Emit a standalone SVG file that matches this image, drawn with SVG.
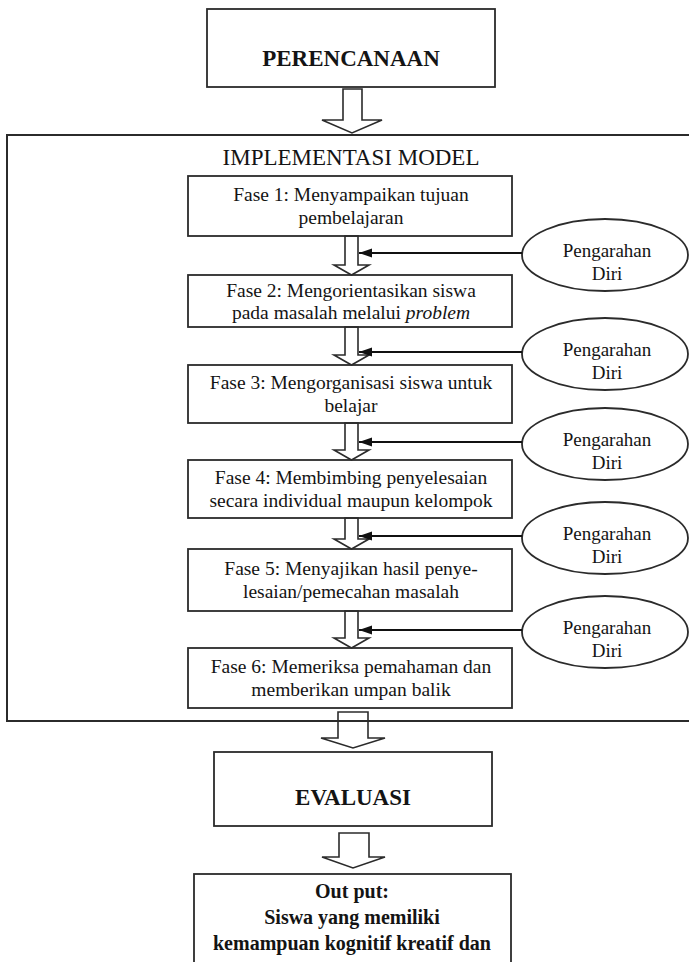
<svg xmlns="http://www.w3.org/2000/svg" width="689" height="962" viewBox="0 0 689 962">
<style>
.box{fill:#fff;stroke:#2b2b2b;stroke-width:1.8}
.frame{fill:none;stroke:#2b2b2b;stroke-width:2}
.barrow{fill:none;stroke:#2b2b2b;stroke-width:1.6;stroke-linejoin:miter}
.link{stroke:#111;stroke-width:2.2;fill:none}
.t{font-family:"Liberation Serif","Times New Roman",serif;fill:#141414;text-anchor:middle}
.fase{font-size:19.5px}
.big{font-size:23px;font-weight:bold}
.out{font-size:20px;font-weight:bold}
.ell{font-size:19px}
</style>
<defs>
<marker id="ah" markerUnits="userSpaceOnUse" markerWidth="14" markerHeight="10" refX="13" refY="4.5" orient="auto">
<path d="M0,0 L13,4.5 L0,9 z" fill="#111"/>
</marker>
</defs>
<rect width="689" height="962" fill="#fff"/>

<g id="perencanaan">
<rect class="box" x="207" y="9" width="288" height="78"/>
<text class="t big" x="351" y="66">PERENCANAAN</text>
</g>

<g id="implementasi">
<rect class="frame" x="7" y="135" width="700" height="586"/>
<text class="t" style="font-size:23px" x="351" y="165">IMPLEMENTASI MODEL</text>
</g>

<g id="fase1">
<rect class="box" x="188" y="176" width="324" height="60"/>
<text class="t fase" x="351" y="201">Fase 1: Menyampaikan tujuan</text>
<text class="t fase" x="351" y="224">pembelajaran</text>
</g>
<g id="fase2">
<rect class="box" x="188" y="275" width="324" height="52"/>
<text class="t fase" x="351" y="297">Fase 2: Mengorientasikan siswa</text>
<text class="t fase" x="351" y="319">pada masalah melalui <tspan font-style="italic">problem</tspan></text>
</g>
<g id="fase3">
<rect class="box" x="188" y="365" width="324" height="58"/>
<text class="t fase" x="351" y="389">Fase 3: Mengorganisasi siswa untuk</text>
<text class="t fase" x="351" y="412">belajar</text>
</g>
<g id="fase4">
<rect class="box" x="188" y="460" width="324" height="58"/>
<text class="t fase" x="351" y="484">Fase 4: Membimbing penyelesaian</text>
<text class="t fase" x="351" y="507">secara individual maupun kelompok</text>
</g>
<g id="fase5">
<rect class="box" x="188" y="549" width="324" height="62"/>
<text class="t fase" x="351" y="575">Fase 5: Menyajikan hasil penye-</text>
<text class="t fase" x="351" y="598">lesaian/pemecahan masalah</text>
</g>
<g id="fase6">
<rect class="box" x="188" y="648" width="324" height="60"/>
<text class="t fase" x="351" y="673">Fase 6: Memeriksa pemahaman dan</text>
<text class="t fase" x="351" y="696">memberikan umpan balik</text>
</g>

<g id="diri1">
<ellipse class="box" cx="605" cy="255" rx="83" ry="36"/>
<text class="t ell" x="607" y="257">Pengarahan</text>
<text class="t ell" x="607" y="280">Diri</text>
</g>
<g id="diri2">
<ellipse class="box" cx="605" cy="354" rx="83" ry="36"/>
<text class="t ell" x="607" y="356">Pengarahan</text>
<text class="t ell" x="607" y="379">Diri</text>
</g>
<g id="diri3">
<ellipse class="box" cx="605" cy="444" rx="83" ry="36"/>
<text class="t ell" x="607" y="446">Pengarahan</text>
<text class="t ell" x="607" y="469">Diri</text>
</g>
<g id="diri4">
<ellipse class="box" cx="605" cy="538" rx="83" ry="36"/>
<text class="t ell" x="607" y="540">Pengarahan</text>
<text class="t ell" x="607" y="563">Diri</text>
</g>
<g id="diri5">
<ellipse class="box" cx="605" cy="632" rx="83" ry="36"/>
<text class="t ell" x="607" y="634">Pengarahan</text>
<text class="t ell" x="607" y="657">Diri</text>
</g>

<g id="evaluasi">
<rect class="box" x="214" y="752" width="278" height="74"/>
<text class="t big" x="353" y="805">EVALUASI</text>
</g>

<g id="output">
<rect class="box" x="194" y="874" width="317" height="100"/>
<text class="t out" x="352" y="898">Out put:</text>
<text class="t out" x="352" y="924">Siswa yang memiliki</text>
<text class="t out" x="352" y="950">kemampuan kognitif kreatif dan</text>
</g>

<g id="connectors">
<polygon class="barrow" points="343,89 362,89 362,120 382,120 352,133 322,120 343,120"/>
<polygon class="barrow" points="345,236 358,236 358,265 369,265 351.5,275 334,265 345,265"/>
<polygon class="barrow" points="345,327 358,327 358,355 369,355 351.5,365 334,355 345,355"/>
<polygon class="barrow" points="345,423 358,423 358,450 369,450 351.5,460 334,450 345,450"/>
<polygon class="barrow" points="345,518 358,518 358,539 369,539 351.5,549 334,539 345,539"/>
<polygon class="barrow" points="345,611 358,611 358,638 369,638 351.5,648 334,638 345,638"/>
<polygon class="barrow" points="338,712 368,712 368,738 385,738 353,748 321,738 338,738"/>
<polygon class="barrow" points="339,833 369,833 369,857 385,857 353,868 322,857 339,857"/>
<line class="link" x1="522" y1="253" x2="359" y2="253" marker-end="url(#ah)"/>
<line class="link" x1="522" y1="352" x2="359" y2="352" marker-end="url(#ah)"/>
<line class="link" x1="522" y1="442" x2="359" y2="442" marker-end="url(#ah)"/>
<line class="link" x1="522" y1="536" x2="359" y2="536" marker-end="url(#ah)"/>
<line class="link" x1="522" y1="630" x2="359" y2="630" marker-end="url(#ah)"/>
</g>
</svg>
